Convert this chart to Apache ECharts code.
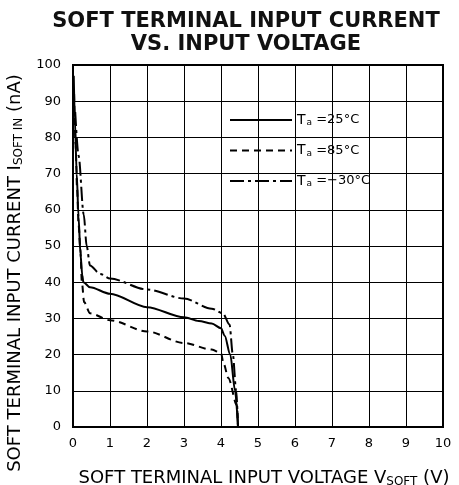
<!DOCTYPE html>
<html lang="en">
<head>
    <meta charset="utf-8"/>
    <script src="https://cdn.jsdelivr.net/npm/echarts@6/dist/echarts.min.js"></script>
    <title></title>
    <style>body{margin:0;background:#fff}</style>
</head>
<body>
<div id="main" style="width: 459px;height:485px;"></div>
<script type="text/javascript">

    // curves
    var volt25 = [0.02, 0.05, 0.1, 0.15, 0.2, 0.25, 0.28, 0.46, 1.0, 2.0, 3.0, 3.4, 3.75, 4.0, 4.1, 4.25, 4.38, 4.46];
    var cur25 = [97, 85, 70, 58, 48, 42, 40, 38.6, 36.8, 33.1, 30.3, 29.3, 28.6, 27.3, 25.2, 20, 10, 0];

    var volt85 = [0.03, 0.07, 0.11, 0.15, 0.2, 0.24, 0.3, 0.46, 1.0, 2.0, 3.0, 3.75, 4.0, 4.07, 4.2, 4.43, 4.46];
    var cur85 = [92, 78, 66, 56, 49, 40, 34.5, 31.4, 29.5, 26.4, 23.2, 21.4, 20.4, 17.5, 13.5, 6, 0];

    var voltM30 = [0.06, 0.15, 0.29, 0.37, 0.46, 0.73, 1.0, 2.0, 3.0, 3.75, 4.05, 4.23, 4.32, 4.41, 4.46];
    var curM30 = [87, 75, 58.7, 50, 44.6, 42.3, 41, 38, 35.5, 32.7, 31.4, 28.3, 20, 10, 0];

    var seriesNames = ['Ta =25°C', 'Ta =85°C', 'Ta =-30°C'];
    var legendText = ['{n|T}{s|a} =25°C', '{n|T}{s|a} =85°C', '{n|T}{s|a} =\u221230°C'];

    function pairs(xs, ys) {
        var out = [];
        for (var i = 0; i < xs.length; i++) out.push([xs[i], ys[i]]);
        return out;
    }

    var font = 'DejaVu Sans, Liberation Sans, sans-serif';
    var myChart = echarts.init(document.getElementById('main'));

    var option = {
        animation: false,
        textStyle: {fontFamily: font, color: '#000'},
        title: {
            text: 'SOFT TERMINAL INPUT CURRENT\nVS. INPUT VOLTAGE',
            left: 246,
            top: 10,
            textAlign: 'center',
            padding: 0,
            textStyle: {fontFamily: font, fontSize: 21, fontWeight: 'bold', color: '#111', lineHeight: 23}
        },
        legend: {
            orient: 'vertical',
            left: 224,
            top: 108,
            itemWidth: 62,
            itemHeight: 12,
            itemGap: 16,
            selectedMode: false,
            data: seriesNames,
            itemStyle: {opacity: 0},
            formatter: function (name) {
                return legendText[seriesNames.indexOf(name)];
            },
            textStyle: {
                fontFamily: font,
                fontSize: 13,
                color: '#000',
                rich: {
                    n: {fontSize: 14, fontFamily: font},
                    s: {fontSize: 9, fontFamily: font, verticalAlign: 'bottom', padding: [6, 0, 0, 1]}
                }
            }
        },
        grid: {
            left: 73, right: 16, top: 65, bottom: 58,
            outerBoundsMode: 'none',
            containLabel: false,
            show: true, borderColor: '#000', borderWidth: 2
        },
        xAxis: {
            type: 'value',
            min: 0, max: 10, interval: 1,
            name: 'SOFT TERMINAL INPUT VOLTAGE V{s|SOFT} (V)',
            nameLocation: 'middle',
            nameGap: 42,
            nameTextStyle: {
                fontFamily: font, fontSize: 18, color: '#000', padding: [0, 0, 0, 12],
                rich: {s: {fontSize: 12, fontFamily: font, padding: [7, 0, 0, 0]}}
            },
            axisLine: {show: false},
            axisTick: {show: false},
            axisLabel: {fontFamily: font, fontSize: 13, color: '#000', margin: 10},
            splitLine: {lineStyle: {color: '#000', width: 1}}
        },
        yAxis: {
            type: 'value',
            min: 0, max: 100, interval: 10,
            name: 'SOFT TERMINAL INPUT CURRENT I{s|SOFT IN} (nA)',
            nameLocation: 'middle',
            nameGap: 47,
            nameTextStyle: {
                fontFamily: font, fontSize: 18, color: '#000', padding: [0, 54, 0, 0],
                rich: {s: {fontSize: 12, fontFamily: font, padding: [7, 0, 0, 0]}}
            },
            axisLine: {show: false},
            axisTick: {show: false},
            axisLabel: {fontFamily: font, fontSize: 13, color: '#000', margin: 12},
            splitLine: {lineStyle: {color: '#000', width: 1}}
        },
        series: [
            {
                name: seriesNames[0], type: 'line', symbol: 'none', smooth: 0.3, smoothMonotone: 'x',
                lineStyle: {color: '#000', width: 2, type: 'solid'},
                itemStyle: {color: '#000'},
                data: pairs(volt25, cur25)
            },
            {
                name: seriesNames[1], type: 'line', symbol: 'none', smooth: 0.3, smoothMonotone: 'x',
                lineStyle: {color: '#000', width: 2, type: [7, 5]},
                itemStyle: {color: '#000'},
                data: pairs(volt85, cur85)
            },
            {
                name: seriesNames[2], type: 'line', symbol: 'none', smooth: 0.3, smoothMonotone: 'x',
                lineStyle: {color: '#000', width: 2, type: [14, 4, 3, 4]},
                itemStyle: {color: '#000'},
                data: pairs(voltM30, curM30)
            }
        ]
    };
    myChart.setOption(option);
</script>
</body>
</html>
